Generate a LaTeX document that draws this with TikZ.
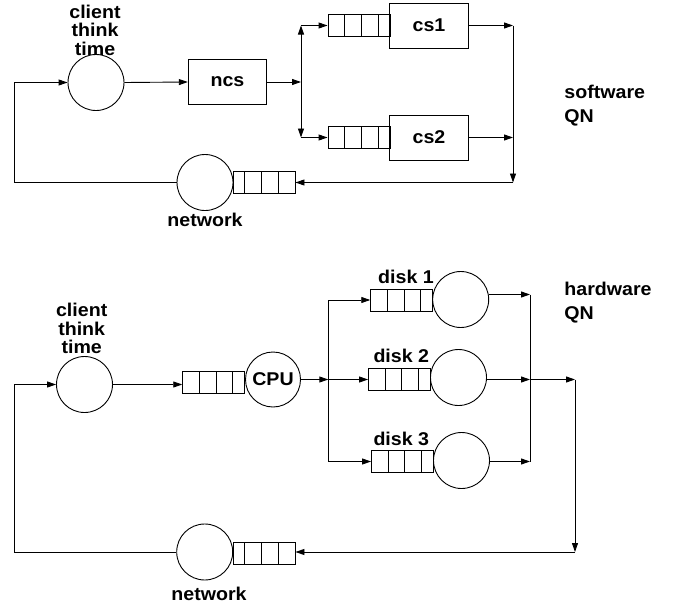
\documentclass[tikz,border=0pt]{standalone}
\usepackage{fontspec}
\setmainfont{Liberation Sans}[FakeStretch=1.06]
\usetikzlibrary{arrows.meta,calc}
\tikzset{
  lab/.style={font=\bfseries\fontsize{18.5}{18.5}\selectfont, inner sep=0pt},
  labwide/.style={font=\bfseries\fontsize{18.5}{23.5}\selectfont, inner sep=0pt},
  srv/.style={draw, circle, minimum size=56pt, inner sep=0pt},
  procbox/.style={draw, rectangle, minimum width=78.5pt, minimum height=45pt, lab},
  queueR/.style={draw, rectangle, minimum width=62pt, minimum height=22pt, inner sep=0pt,
    path picture={\foreach \qq in {16.7,33.4,50.1}
      \draw ([xshift=\qq pt]path picture bounding box.north west) -- ([xshift=\qq pt]path picture bounding box.south west);}},
  queueL/.style={draw, rectangle, minimum width=62pt, minimum height=22pt, inner sep=0pt,
    path picture={\foreach \qq in {11.9,28.6,45.3}
      \draw ([xshift=\qq pt]path picture bounding box.north west) -- ([xshift=\qq pt]path picture bounding box.south west);}},
  arr/.style={-{Triangle[length=9pt,width=6pt]}},
}
\begin{document}
\begin{tikzpicture}[x=1pt,y=-1pt,line width=0.9pt]
\useasboundingbox (0,0) rectangle (673,608);
% ---------------- software QN ----------------
\node[srv] (ctt1) at (96,82.5) {};
\node[lab, align=center, anchor=north] (ctt1l) at (95,4.3) {client\\think\\time};
\node[procbox] (ncs) at (227.5,82) {ncs};
\coordinate (jT) at (301,82);
\coordinate (jTa) at (301,25.5);
\coordinate (jTb) at (301,137.5);
\node[queueR] (q1) at (359,25.5) {};
\node[procbox] (cs1) at (429,25.5) {cs1};
\node[queueR] (q2) at (359,137.5) {};
\node[procbox] (cs2) at (429,137.5) {cs2};
\coordinate (R1a) at (513,25.5);
\coordinate (R1b) at (513,137.5);
\coordinate (R1c) at (513,182.5);
\node[srv] (net1) at (205,182.5) {};
\node[queueL] (nq1) at (264,182.5) {};
\node[lab, anchor=base] (net1l) at (205,226) {network};
\coordinate (L1) at (14,82.5);
\node[labwide, align=left, anchor=north west] (sw) at (564,85) {software\\QN};

\draw[arr] (net1.west) -| (L1) -- (ctt1.west);
\draw[arr] (ctt1.east) -- (ncs.west);
\draw[arr] (ncs.east) -- (jT);
\draw[arr] (jT) -- (jTa);
\draw[arr] (jT) -- (jTb);
\draw[arr] (jTa) -- (q1.west);
\draw[arr] (jTb) -- (q2.west);
\draw[arr] (cs1.east) -- (R1a);
\draw[arr] (cs2.east) -- (R1b);
\draw[arr] (R1a) -- (R1c);
\draw[arr] (R1c) -- (nq1.east);

% ---------------- hardware QN ----------------
\node[srv] (ctt2) at (84.5,384.5) {};
\node[lab, align=center, anchor=north] (ctt2l) at (81.7,302.8) {client\\think\\time};
\node[queueR] (cq) at (213.7,382) {};
\node[srv, minimum size=55pt, lab] (cpu) at (273,379.5) {CPU};
\coordinate (jL) at (328.3,379.5);
\coordinate (jL1) at (328.3,300);
\coordinate (jL3) at (328.3,461.5);
\node[queueR] (dq1) at (401.7,300) {};
\node[srv] (d1) at (460.7,299.5) {};
\node[queueR] (dq2) at (399.5,379.5) {};
\node[srv] (d2) at (458.5,377.5) {};
\node[queueR] (dq3) at (402.5,461.5) {};
\node[srv] (d3) at (461.5,460.5) {};
\node[lab, anchor=base] (d1l) at (406,283.3) {disk 1};
\node[lab, anchor=base] (d2l) at (401.3,362.3) {disk 2};
\node[lab, anchor=base] (d3l) at (401.3,445.7) {disk 3};
\coordinate (jR1) at (530,294.5);
\coordinate (jR2) at (530,379.5);
\coordinate (jR3) at (530,461.5);
\coordinate (jO) at (575,379.5);
\coordinate (jOb) at (575,552);
\node[srv] (net2) at (204.7,552) {};
\node[queueL] (nq2) at (264,553) {};
\node[lab, anchor=base] (net2l) at (209,600) {network};
\coordinate (L2) at (14,384.5);
\node[labwide, align=left, anchor=north west] (hw) at (564,281.8) {hardware\\QN};

\draw[arr] (net2.west) -| (L2) -- (ctt2.west);
\draw[arr] (ctt2.east) -- (ctt2.east -| cq.west);
\draw[arr] (cpu.east) -- (jL);
\draw (jL1) -- (jL3);
\draw[arr] (jL1) -- (dq1.west);
\draw[arr] (jL) -- (dq2.west);
\draw[arr] (jL3) -- (dq3.west);
\draw[arr] ([yshift=5pt]d1.east) -- (jR1);
\draw[arr] (d2.east |- jR2) -- (jR2);
\draw[arr] (d3.east |- jR3) -- (jR3);
\draw (jR1) -- (jR3);
\draw[arr] (jR2) -- (jO);
\draw[arr] (jO) -- (jOb);
\draw[arr] (jOb) -- (nq2.east |- jOb);
\end{tikzpicture}
\end{document}
